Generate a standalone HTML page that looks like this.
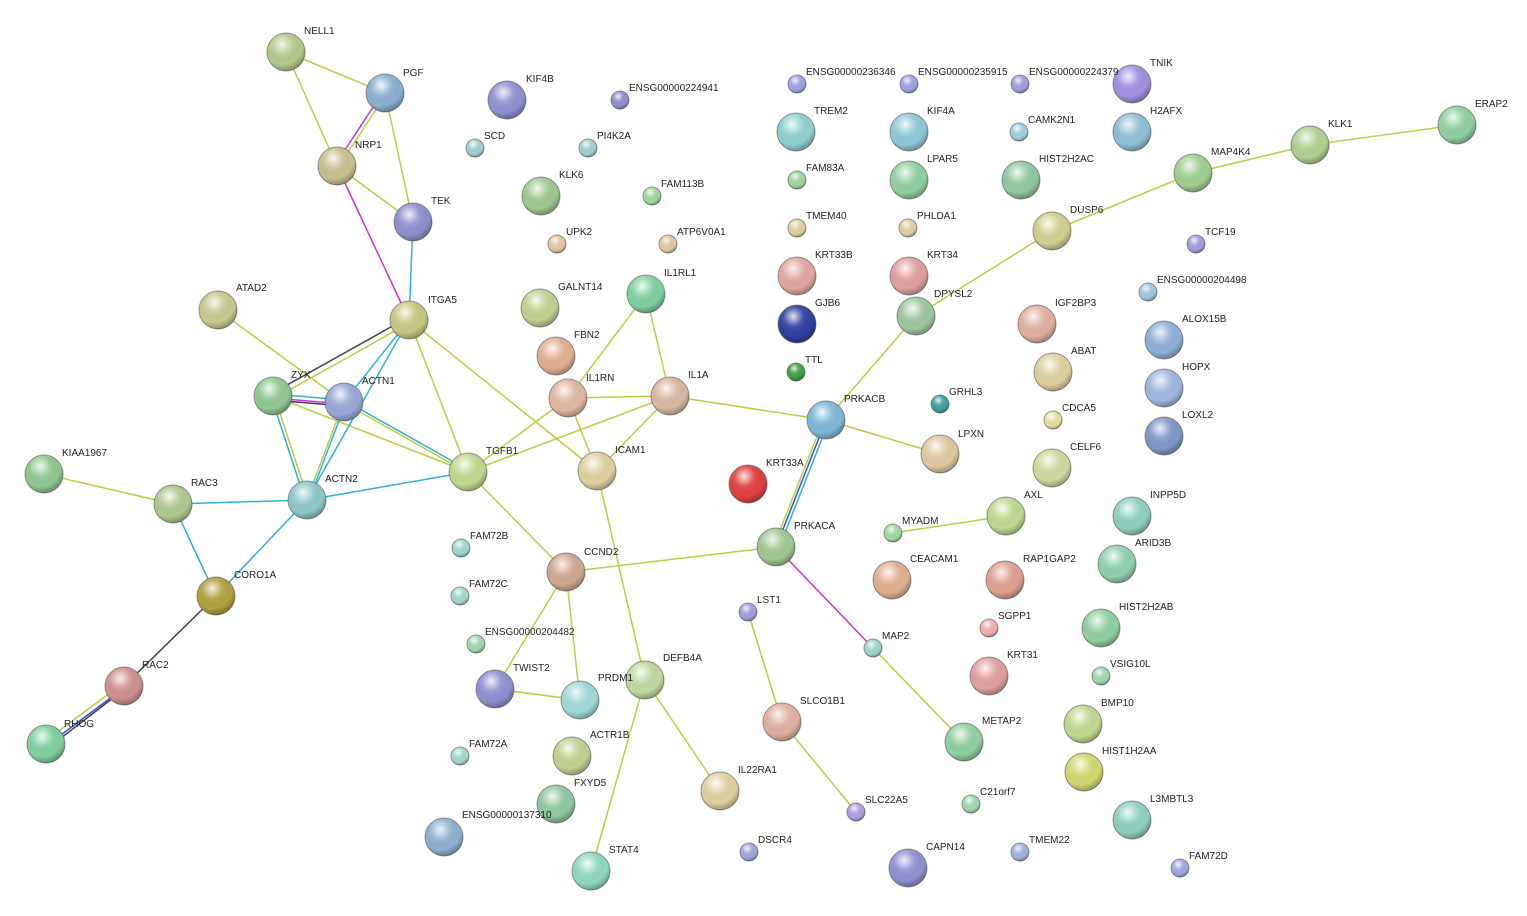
<!DOCTYPE html>
<html><head><meta charset="utf-8"><style>
html,body{margin:0;padding:0;background:#fff;}
svg{display:block;}
text{font-family:"Liberation Sans",Arial,sans-serif;font-size:10px;fill:#222;}
</style></head><body>
<svg width="1527" height="916" viewBox="0 0 1527 916" xmlns="http://www.w3.org/2000/svg">
<defs>
<radialGradient id="g" cx="0.4" cy="0.3" r="0.75">
<stop offset="0" stop-color="#fff" stop-opacity="0.85"/>
<stop offset="0.35" stop-color="#fff" stop-opacity="0.1"/>
<stop offset="0.7" stop-color="#000" stop-opacity="0"/>
<stop offset="1" stop-color="#000" stop-opacity="0.35"/>
</radialGradient>
</defs>
<g stroke-width="1.5" fill="none">
<g stroke="#b8d040">
<line x1="286" y1="52" x2="385" y2="93"/>
<line x1="286" y1="52" x2="337" y2="166"/>
<line x1="385" y1="93" x2="413" y2="222"/>
<line x1="337" y1="166" x2="413" y2="222"/>
<line x1="409" y1="320" x2="468" y2="472"/>
<line x1="409" y1="320" x2="597" y2="471"/>
<line x1="218" y1="310" x2="344" y2="402"/>
<line x1="273" y1="396" x2="468" y2="472"/>
<line x1="173" y1="504" x2="44" y2="474"/>
<line x1="468" y1="472" x2="670" y2="396"/>
<line x1="468" y1="472" x2="568" y2="398"/>
<line x1="468" y1="472" x2="566" y2="572"/>
<line x1="568" y1="398" x2="670" y2="396"/>
<line x1="568" y1="398" x2="646" y2="294"/>
<line x1="670" y1="396" x2="646" y2="294"/>
<line x1="568" y1="398" x2="597" y2="471"/>
<line x1="670" y1="396" x2="597" y2="471"/>
<line x1="670" y1="396" x2="826" y2="420"/>
<line x1="597" y1="471" x2="645" y2="680"/>
<line x1="566" y1="572" x2="776" y2="547"/>
<line x1="566" y1="572" x2="580" y2="700"/>
<line x1="566" y1="572" x2="495" y2="689"/>
<line x1="495" y1="689" x2="580" y2="700"/>
<line x1="645" y1="680" x2="591" y2="871"/>
<line x1="645" y1="680" x2="720" y2="791"/>
<line x1="826" y1="420" x2="940" y2="454"/>
<line x1="826" y1="420" x2="916" y2="316"/>
<line x1="916" y1="316" x2="1052" y2="231"/>
<line x1="1052" y1="231" x2="1193" y2="173"/>
<line x1="1193" y1="173" x2="1310" y2="145"/>
<line x1="1310" y1="145" x2="1457" y2="125"/>
<line x1="873" y1="648" x2="964" y2="742"/>
<line x1="748" y1="612" x2="782" y2="722"/>
<line x1="782" y1="722" x2="856" y2="812"/>
<line x1="893" y1="533" x2="1006" y2="516"/>
<line x1="387" y1="93" x2="339" y2="166"/>
<line x1="411" y1="322" x2="275" y2="398"/>
<line x1="346" y1="404" x2="470" y2="474"/>
<line x1="275" y1="398" x2="309" y2="502"/>
<line x1="343" y1="404" x2="306" y2="502"/>
<line x1="823" y1="421" x2="773" y2="548"/>
<line x1="122" y1="684" x2="44" y2="742"/>
</g>
<g stroke="#30b0d8">
<line x1="413" y1="222" x2="409" y2="320"/>
<line x1="409" y1="320" x2="344" y2="402"/>
<line x1="409" y1="320" x2="307" y2="500"/>
<line x1="344" y1="400" x2="468" y2="470"/>
<line x1="307" y1="500" x2="468" y2="472"/>
<line x1="307" y1="500" x2="173" y2="504"/>
<line x1="173" y1="504" x2="216" y2="596"/>
<line x1="307" y1="500" x2="216" y2="596"/>
<line x1="271" y1="396" x2="305" y2="500"/>
<line x1="346" y1="402" x2="309" y2="500"/>
<line x1="273" y1="394" x2="344" y2="400"/>
<line x1="829" y1="421" x2="779" y2="548"/>
</g>
<g stroke="#d030d0">
<line x1="383" y1="92" x2="335" y2="165"/>
<line x1="337" y1="166" x2="409" y2="320"/>
<line x1="776" y1="547" x2="873" y2="648"/>
<line x1="273" y1="398" x2="344" y2="404"/>
</g>
<g stroke="#3050e0">
<line x1="826" y1="420" x2="776" y2="547"/>
<line x1="124" y1="688" x2="46" y2="746"/>
</g>
<g stroke="#444">
<line x1="407" y1="318" x2="271" y2="394"/>
<line x1="216" y1="596" x2="124" y2="686"/>
<line x1="126" y1="688" x2="48" y2="748"/>
<line x1="273" y1="400" x2="344" y2="406"/>
</g>
</g>
<g stroke="#555" stroke-opacity="0.6" stroke-width="1">
<circle cx="286" cy="52" r="19" fill="#b5c98a"/><circle cx="385" cy="93" r="19" fill="#8ab0d0"/><circle cx="337" cy="166" r="19" fill="#c8c090"/><circle cx="413" cy="222" r="19" fill="#9090d0"/><circle cx="409" cy="320" r="19" fill="#c8c880"/><circle cx="218" cy="310" r="19" fill="#c8c890"/><circle cx="273" cy="396" r="19" fill="#90c890"/><circle cx="344" cy="402" r="19" fill="#9aa8d8"/><circle cx="307" cy="500" r="19" fill="#90c8c8"/><circle cx="468" cy="472" r="19" fill="#c0d890"/><circle cx="44" cy="474" r="19" fill="#90c890"/><circle cx="173" cy="504" r="19" fill="#b0c890"/><circle cx="216" cy="596" r="19" fill="#b0a040"/><circle cx="124" cy="686" r="19" fill="#d09090"/><circle cx="46" cy="744" r="19" fill="#80d0a0"/><circle cx="507" cy="100" r="19" fill="#9090d0"/><circle cx="620" cy="100" r="9" fill="#9090d0"/><circle cx="475" cy="148" r="9" fill="#a0d0d0"/><circle cx="588" cy="148" r="9" fill="#a0d0d0"/><circle cx="541" cy="196" r="19" fill="#a0c890"/><circle cx="652" cy="196" r="9" fill="#a0d8a0"/><circle cx="557" cy="244" r="9" fill="#e0c8a0"/><circle cx="668" cy="244" r="9" fill="#e0c8a0"/><circle cx="540" cy="308" r="19" fill="#c0d090"/><circle cx="646" cy="294" r="19" fill="#80d0a0"/><circle cx="556" cy="356" r="19" fill="#e0b090"/><circle cx="568" cy="398" r="19" fill="#e0b8a0"/><circle cx="670" cy="396" r="19" fill="#d8b8a0"/><circle cx="597" cy="471" r="19" fill="#e0d0a0"/><circle cx="461" cy="548" r="9" fill="#a0d8d0"/><circle cx="460" cy="596" r="9" fill="#a0d8d0"/><circle cx="566" cy="572" r="19" fill="#d0a890"/><circle cx="476" cy="644" r="9" fill="#a0d8b0"/><circle cx="495" cy="689" r="19" fill="#9090d0"/><circle cx="580" cy="700" r="19" fill="#a0d8d8"/><circle cx="645" cy="680" r="19" fill="#c0d8a0"/><circle cx="460" cy="756" r="9" fill="#a0d8d0"/><circle cx="572" cy="756" r="19" fill="#c0d090"/><circle cx="556" cy="804" r="19" fill="#90c8a0"/><circle cx="444" cy="837" r="19" fill="#90b0d0"/><circle cx="591" cy="871" r="19" fill="#90d8c0"/><circle cx="720" cy="791" r="19" fill="#e0d0a0"/><circle cx="749" cy="852" r="9" fill="#a0a8d8"/><circle cx="748" cy="612" r="9" fill="#a0a0e0"/><circle cx="782" cy="722" r="19" fill="#e0b0a0"/><circle cx="856" cy="812" r="9" fill="#b0a0e0"/><circle cx="873" cy="648" r="9" fill="#a0d8c8"/><circle cx="964" cy="742" r="19" fill="#90d0a0"/><circle cx="971" cy="804" r="9" fill="#a0d8b0"/><circle cx="908" cy="868" r="19" fill="#9090d0"/><circle cx="1020" cy="852" r="9" fill="#a0b0e0"/><circle cx="1180" cy="868" r="9" fill="#a0a8e0"/><circle cx="776" cy="547" r="19" fill="#a0c890"/><circle cx="748" cy="484" r="19" fill="#e04040"/><circle cx="826" cy="420" r="19" fill="#80b8d8"/><circle cx="940" cy="454" r="19" fill="#e0c8a0"/><circle cx="893" cy="533" r="9" fill="#a0d8a0"/><circle cx="1006" cy="516" r="19" fill="#c0d890"/><circle cx="892" cy="580" r="19" fill="#e0b090"/><circle cx="1005" cy="580" r="19" fill="#e0a090"/><circle cx="989" cy="628" r="9" fill="#f0b0b0"/><circle cx="989" cy="676" r="19" fill="#e0a0a0"/><circle cx="797" cy="84" r="9" fill="#a0a0e0"/><circle cx="909" cy="84" r="9" fill="#a0a0e0"/><circle cx="1020" cy="84" r="9" fill="#a0a0e0"/><circle cx="1132" cy="84" r="19" fill="#a090e0"/><circle cx="796" cy="132" r="19" fill="#90d0d0"/><circle cx="909" cy="132" r="19" fill="#90c8d8"/><circle cx="1019" cy="132" r="9" fill="#a0d0e0"/><circle cx="1132" cy="132" r="19" fill="#90c0d8"/><circle cx="797" cy="180" r="9" fill="#a0d8a0"/><circle cx="909" cy="180" r="19" fill="#90d0a0"/><circle cx="1021" cy="180" r="19" fill="#90c8a0"/><circle cx="797" cy="228" r="9" fill="#e0d0a0"/><circle cx="908" cy="228" r="9" fill="#e0d0a0"/><circle cx="1052" cy="231" r="19" fill="#d0d090"/><circle cx="1193" cy="173" r="19" fill="#a0d090"/><circle cx="1310" cy="145" r="19" fill="#b0d090"/><circle cx="1457" cy="125" r="19" fill="#90d0a0"/><circle cx="1196" cy="244" r="9" fill="#a0a0e0"/><circle cx="797" cy="276" r="19" fill="#e0a8a0"/><circle cx="909" cy="276" r="19" fill="#e0a0a0"/><circle cx="797" cy="324" r="19" fill="#3040a0"/><circle cx="916" cy="316" r="19" fill="#a0c8a0"/><circle cx="1037" cy="324" r="19" fill="#e0b0a0"/><circle cx="1148" cy="292" r="9" fill="#a0c8e0"/><circle cx="1164" cy="340" r="19" fill="#90b0d8"/><circle cx="796" cy="372" r="9" fill="#40a040"/><circle cx="1053" cy="372" r="19" fill="#e0d0a0"/><circle cx="1164" cy="388" r="19" fill="#a0b8e0"/><circle cx="940" cy="404" r="9" fill="#40a0a0"/><circle cx="1053" cy="420" r="9" fill="#e8e0a0"/><circle cx="1164" cy="436" r="19" fill="#8098c8"/><circle cx="1052" cy="468" r="19" fill="#d0d8a0"/><circle cx="1132" cy="516" r="19" fill="#90d0c0"/><circle cx="1117" cy="564" r="19" fill="#90d0b0"/><circle cx="1101" cy="628" r="19" fill="#90d0a0"/><circle cx="1101" cy="676" r="9" fill="#a0d8b0"/><circle cx="1083" cy="724" r="19" fill="#c0d890"/><circle cx="1084" cy="772" r="19" fill="#d0d870"/><circle cx="1132" cy="820" r="19" fill="#90d0c0"/>
</g>
<g fill="url(#g)">
<circle cx="286" cy="52" r="19"/><circle cx="385" cy="93" r="19"/><circle cx="337" cy="166" r="19"/><circle cx="413" cy="222" r="19"/><circle cx="409" cy="320" r="19"/><circle cx="218" cy="310" r="19"/><circle cx="273" cy="396" r="19"/><circle cx="344" cy="402" r="19"/><circle cx="307" cy="500" r="19"/><circle cx="468" cy="472" r="19"/><circle cx="44" cy="474" r="19"/><circle cx="173" cy="504" r="19"/><circle cx="216" cy="596" r="19"/><circle cx="124" cy="686" r="19"/><circle cx="46" cy="744" r="19"/><circle cx="507" cy="100" r="19"/><circle cx="620" cy="100" r="9"/><circle cx="475" cy="148" r="9"/><circle cx="588" cy="148" r="9"/><circle cx="541" cy="196" r="19"/><circle cx="652" cy="196" r="9"/><circle cx="557" cy="244" r="9"/><circle cx="668" cy="244" r="9"/><circle cx="540" cy="308" r="19"/><circle cx="646" cy="294" r="19"/><circle cx="556" cy="356" r="19"/><circle cx="568" cy="398" r="19"/><circle cx="670" cy="396" r="19"/><circle cx="597" cy="471" r="19"/><circle cx="461" cy="548" r="9"/><circle cx="460" cy="596" r="9"/><circle cx="566" cy="572" r="19"/><circle cx="476" cy="644" r="9"/><circle cx="495" cy="689" r="19"/><circle cx="580" cy="700" r="19"/><circle cx="645" cy="680" r="19"/><circle cx="460" cy="756" r="9"/><circle cx="572" cy="756" r="19"/><circle cx="556" cy="804" r="19"/><circle cx="444" cy="837" r="19"/><circle cx="591" cy="871" r="19"/><circle cx="720" cy="791" r="19"/><circle cx="749" cy="852" r="9"/><circle cx="748" cy="612" r="9"/><circle cx="782" cy="722" r="19"/><circle cx="856" cy="812" r="9"/><circle cx="873" cy="648" r="9"/><circle cx="964" cy="742" r="19"/><circle cx="971" cy="804" r="9"/><circle cx="908" cy="868" r="19"/><circle cx="1020" cy="852" r="9"/><circle cx="1180" cy="868" r="9"/><circle cx="776" cy="547" r="19"/><circle cx="748" cy="484" r="19"/><circle cx="826" cy="420" r="19"/><circle cx="940" cy="454" r="19"/><circle cx="893" cy="533" r="9"/><circle cx="1006" cy="516" r="19"/><circle cx="892" cy="580" r="19"/><circle cx="1005" cy="580" r="19"/><circle cx="989" cy="628" r="9"/><circle cx="989" cy="676" r="19"/><circle cx="797" cy="84" r="9"/><circle cx="909" cy="84" r="9"/><circle cx="1020" cy="84" r="9"/><circle cx="1132" cy="84" r="19"/><circle cx="796" cy="132" r="19"/><circle cx="909" cy="132" r="19"/><circle cx="1019" cy="132" r="9"/><circle cx="1132" cy="132" r="19"/><circle cx="797" cy="180" r="9"/><circle cx="909" cy="180" r="19"/><circle cx="1021" cy="180" r="19"/><circle cx="797" cy="228" r="9"/><circle cx="908" cy="228" r="9"/><circle cx="1052" cy="231" r="19"/><circle cx="1193" cy="173" r="19"/><circle cx="1310" cy="145" r="19"/><circle cx="1457" cy="125" r="19"/><circle cx="1196" cy="244" r="9"/><circle cx="797" cy="276" r="19"/><circle cx="909" cy="276" r="19"/><circle cx="797" cy="324" r="19"/><circle cx="916" cy="316" r="19"/><circle cx="1037" cy="324" r="19"/><circle cx="1148" cy="292" r="9"/><circle cx="1164" cy="340" r="19"/><circle cx="796" cy="372" r="9"/><circle cx="1053" cy="372" r="19"/><circle cx="1164" cy="388" r="19"/><circle cx="940" cy="404" r="9"/><circle cx="1053" cy="420" r="9"/><circle cx="1164" cy="436" r="19"/><circle cx="1052" cy="468" r="19"/><circle cx="1132" cy="516" r="19"/><circle cx="1117" cy="564" r="19"/><circle cx="1101" cy="628" r="19"/><circle cx="1101" cy="676" r="9"/><circle cx="1083" cy="724" r="19"/><circle cx="1084" cy="772" r="19"/><circle cx="1132" cy="820" r="19"/>
</g>
<g>
<text x="304" y="34">NELL1</text><text x="403" y="76">PGF</text><text x="355" y="148">NRP1</text><text x="431" y="204">TEK</text><text x="428" y="303">ITGA5</text><text x="236" y="291">ATAD2</text><text x="291" y="378">ZYX</text><text x="362" y="384">ACTN1</text><text x="325" y="482">ACTN2</text><text x="486" y="454">TGFB1</text><text x="62" y="456">KIAA1967</text><text x="191" y="486">RAC3</text><text x="234" y="578">CORO1A</text><text x="142" y="668">RAC2</text><text x="64" y="727">RHOG</text><text x="526" y="82">KIF4B</text><text x="629" y="91">ENSG00000224941</text><text x="484" y="139">SCD</text><text x="597" y="139">PI4K2A</text><text x="559" y="178">KLK6</text><text x="661" y="187">FAM113B</text><text x="566" y="235">UPK2</text><text x="677" y="235">ATP6V0A1</text><text x="558" y="290">GALNT14</text><text x="664" y="276">IL1RL1</text><text x="574" y="338">FBN2</text><text x="586" y="381">IL1RN</text><text x="688" y="378">IL1A</text><text x="615" y="453">ICAM1</text><text x="470" y="539">FAM72B</text><text x="469" y="587">FAM72C</text><text x="584" y="555">CCND2</text><text x="485" y="635">ENSG00000204482</text><text x="513" y="671">TWIST2</text><text x="598" y="681">PRDM1</text><text x="663" y="661">DEFB4A</text><text x="469" y="747">FAM72A</text><text x="590" y="738">ACTR1B</text><text x="574" y="786">FXYD5</text><text x="462" y="818">ENSG00000137310</text><text x="609" y="853">STAT4</text><text x="738" y="773">IL22RA1</text><text x="758" y="843">DSCR4</text><text x="757" y="603">LST1</text><text x="800" y="704">SLCO1B1</text><text x="865" y="803">SLC22A5</text><text x="882" y="639">MAP2</text><text x="982" y="724">METAP2</text><text x="980" y="795">C21orf7</text><text x="926" y="850">CAPN14</text><text x="1029" y="843">TMEM22</text><text x="1189" y="859">FAM72D</text><text x="794" y="529">PRKACA</text><text x="766" y="466">KRT33A</text><text x="844" y="402">PRKACB</text><text x="958" y="437">LPXN</text><text x="902" y="524">MYADM</text><text x="1024" y="498">AXL</text><text x="910" y="562">CEACAM1</text><text x="1023" y="562">RAP1GAP2</text><text x="998" y="619">SGPP1</text><text x="1007" y="658">KRT31</text><text x="806" y="75">ENSG00000236346</text><text x="918" y="75">ENSG00000235915</text><text x="1029" y="75">ENSG00000224379</text><text x="1150" y="66">TNIK</text><text x="814" y="114">TREM2</text><text x="927" y="114">KIF4A</text><text x="1028" y="123">CAMK2N1</text><text x="1150" y="114">H2AFX</text><text x="806" y="171">FAM83A</text><text x="927" y="162">LPAR5</text><text x="1039" y="162">HIST2H2AC</text><text x="806" y="219">TMEM40</text><text x="917" y="219">PHLDA1</text><text x="1070" y="213">DUSP6</text><text x="1211" y="155">MAP4K4</text><text x="1328" y="127">KLK1</text><text x="1475" y="107">ERAP2</text><text x="1205" y="235">TCF19</text><text x="815" y="258">KRT33B</text><text x="927" y="258">KRT34</text><text x="815" y="306">GJB6</text><text x="934" y="297">DPYSL2</text><text x="1055" y="306">IGF2BP3</text><text x="1157" y="283">ENSG00000204498</text><text x="1182" y="322">ALOX15B</text><text x="805" y="363">TTL</text><text x="1071" y="354">ABAT</text><text x="1182" y="370">HOPX</text><text x="949" y="395">GRHL3</text><text x="1062" y="411">CDCA5</text><text x="1182" y="418">LOXL2</text><text x="1070" y="450">CELF6</text><text x="1150" y="498">INPP5D</text><text x="1135" y="546">ARID3B</text><text x="1119" y="610">HIST2H2AB</text><text x="1110" y="667">VSIG10L</text><text x="1101" y="706">BMP10</text><text x="1102" y="754">HIST1H2AA</text><text x="1150" y="802">L3MBTL3</text>
</g>
</svg>
</body></html>
